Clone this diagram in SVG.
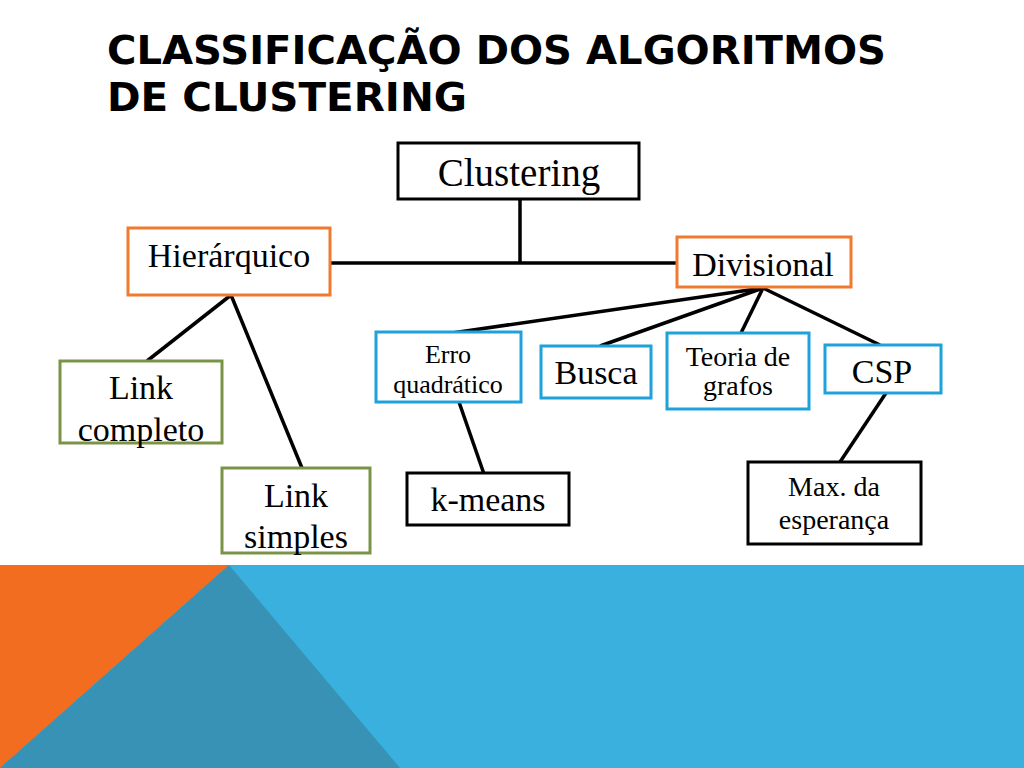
<svg xmlns="http://www.w3.org/2000/svg" width="1024" height="768" viewBox="0 0 1024 768">
  <style>
    .title { font-family: "DejaVu Sans", "Liberation Sans", Arial, sans-serif; font-weight: bold; font-size: 39px; fill: #000; }
    .lbl { font-family: "Liberation Serif", "Times New Roman", serif; fill: #000; text-anchor: middle; }
    .box { fill: #fff; stroke-width: 3; }
    .black { stroke: #000; }
    .orange { stroke: #F07A2E; }
    .green { stroke: #7A9447; }
    .blue { stroke: #1FA2DA; }
    .conn { stroke: #000; stroke-width: 3.5; fill: none; }
  </style>
  <rect x="0" y="0" width="1024" height="768" fill="#fff"/>
  <!-- bottom band -->
  <rect x="0" y="565" width="1024" height="203" fill="#3AB0DE"/>
  <polygon points="0,565 229,565 0,768" fill="#F26D1F"/>
  <polygon points="229,565 400,768 0,768" fill="#3892B5"/>

  <!-- title -->
  <text class="title" x="107" y="64" textLength="779" lengthAdjust="spacingAndGlyphs">CLASSIFICAÇÃO DOS ALGORITMOS</text>
  <text class="title" x="107" y="111" textLength="360" lengthAdjust="spacingAndGlyphs">DE CLUSTERING</text>

  <!-- connectors -->
  <g id="connectors">
    <line class="conn" x1="520" y1="199" x2="520" y2="263" stroke-width="4.5"/>
    <line class="conn" x1="330" y1="263" x2="677" y2="263" stroke-width="4.5"/>
    <line class="conn" x1="231" y1="295" x2="147" y2="361"/>
    <line class="conn" x1="231" y1="295" x2="302" y2="468"/>
    <line class="conn" x1="763" y1="288" x2="452" y2="333"/>
    <line class="conn" x1="763" y1="288" x2="600" y2="346"/>
    <line class="conn" x1="763" y1="288" x2="741" y2="333"/>
    <line class="conn" x1="763" y1="288" x2="880" y2="345"/>
    <line class="conn" x1="459" y1="402" x2="484" y2="474"/>
    <line class="conn" x1="886" y1="393" x2="840" y2="462"/>
  </g>

  <g id="node-clustering">
    <rect class="box black" x="398" y="143" width="241" height="56"/>
    <text class="lbl" x="519" y="186" font-size="39">Clustering</text>
  </g>
  <g id="node-hierarquico">
    <rect class="box orange" x="128" y="228" width="202" height="67"/>
    <text class="lbl" x="229" y="267" font-size="34">Hierárquico</text>
  </g>
  <g id="node-divisional">
    <rect class="box orange" x="677" y="237" width="174" height="50"/>
    <text class="lbl" x="763" y="276" font-size="34">Divisional</text>
  </g>
  <g id="node-link-completo">
    <rect class="box green" x="60" y="361" width="162" height="82"/>
    <text class="lbl" x="141" y="399" font-size="34">Link</text>
    <text class="lbl" x="141" y="441" font-size="34">completo</text>
  </g>
  <g id="node-link-simples">
    <rect class="box green" x="222" y="468" width="148" height="85"/>
    <text class="lbl" x="296" y="507" font-size="34">Link</text>
    <text class="lbl" x="296" y="548" font-size="34">simples</text>
  </g>
  <g id="node-erro">
    <rect class="box blue" x="376" y="332" width="145" height="70"/>
    <text class="lbl" x="448" y="363" font-size="26">Erro</text>
    <text class="lbl" x="448" y="393" font-size="26">quadrático</text>
  </g>
  <g id="node-busca">
    <rect class="box blue" x="541" y="346" width="110" height="52"/>
    <text class="lbl" x="596" y="384" font-size="34">Busca</text>
  </g>
  <g id="node-teoria">
    <rect class="box blue" x="667" y="333" width="142" height="76"/>
    <text class="lbl" x="738" y="366" font-size="28">Teoria de</text>
    <text class="lbl" x="738" y="395" font-size="28">grafos</text>
  </g>
  <g id="node-csp">
    <rect class="box blue" x="825" y="345" width="116" height="48"/>
    <text class="lbl" x="882" y="383" font-size="34">CSP</text>
  </g>
  <g id="node-kmeans">
    <rect class="box black" x="407" y="473" width="162" height="52"/>
    <text class="lbl" x="488" y="511" font-size="34">k-means</text>
  </g>
  <g id="node-max">
    <rect class="box black" x="748" y="462" width="173" height="82"/>
    <text class="lbl" x="834" y="496" font-size="28">Max. da</text>
    <text class="lbl" x="834" y="529" font-size="28">esperança</text>
  </g>
</svg>
